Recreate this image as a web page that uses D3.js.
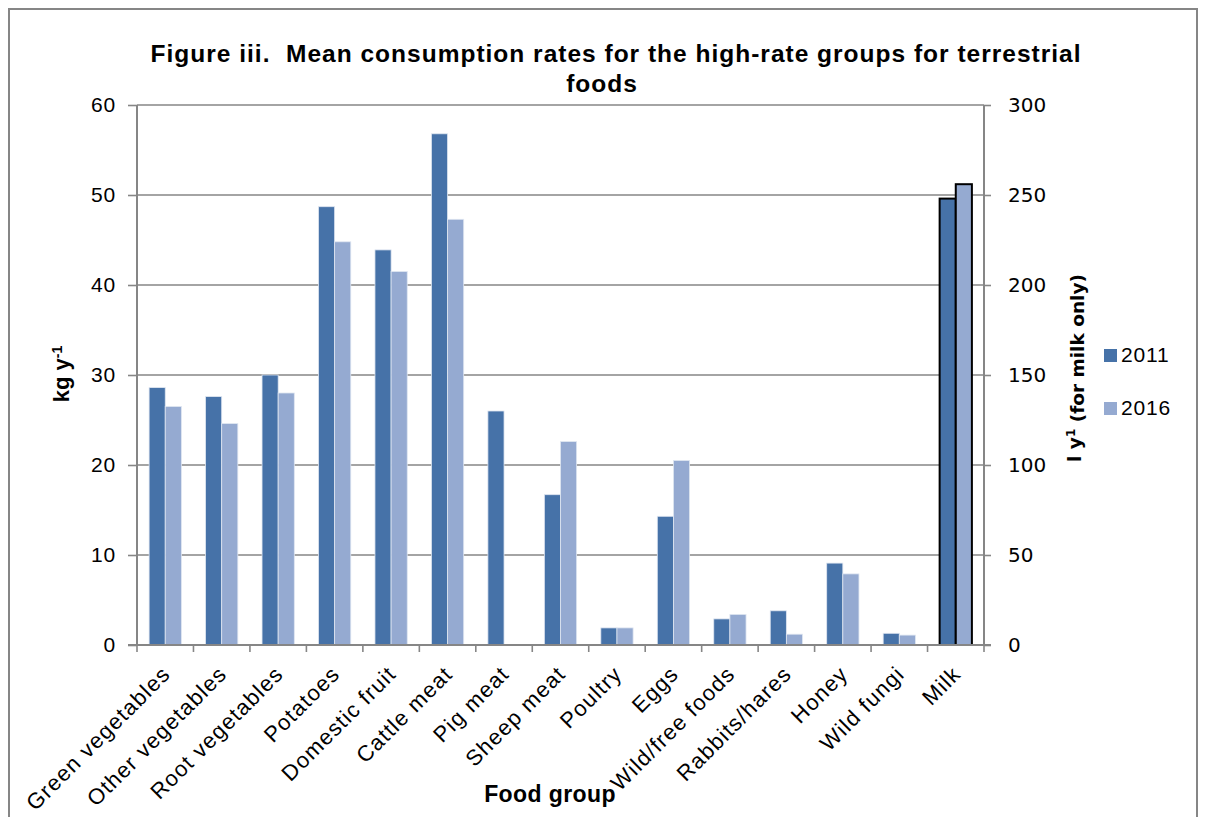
<!DOCTYPE html>
<html lang="en">
<head>
    <meta charset="UTF-8">
    <title>Figure iii</title>
    <style>
        body, html {
            margin: 0;
            padding: 0;
            background-color: #ffffff;
        }
        svg { display: block; }
    </style>
</head>
<body>
    <svg id="svg" width="1206" height="817"></svg>
    <script src="https://d3js.org/d3.v7.min.js"></script>
    <script>
        // data
        const categories = [
            "Green vegetables", "Other vegetables", "Root vegetables", "Potatoes",
            "Domestic fruit", "Cattle meat", "Pig meat", "Sheep meat", "Poultry",
            "Eggs", "Wild/free foods", "Rabbits/hares", "Honey", "Wild fungi", "Milk"
        ]
        const years = ["2011", "2016"]
        // kg per year (left axis), all groups except milk
        const kg2011 = [28.6, 27.6, 30.0, 48.7, 43.9, 56.8, 26.0, 16.7, 1.9, 14.3, 2.9, 3.8, 9.1, 1.3]
        const kg2016 = [26.5, 24.6, 28.0, 44.8, 41.5, 47.3, 0, 22.6, 1.9, 20.5, 3.4, 1.2, 7.9, 1.1]
        // litres per year (right axis), milk only
        const milk2011 = [248]
        const milk2016 = [256]
        const leftTicks = [0, 10, 20, 30, 40, 50, 60]
        const rightTicks = [0, 50, 100, 150, 200, 250, 300]

        const colors = { "2011": "#4672a8", "2016": "#95aad1" }
        const grey = "#868686"
        const font = "'Liberation Sans', Arial, sans-serif"

        const plot = { left: 137, right: 984, top: 105, bottom: 645 }

        const svg = d3.select('#svg')

        // outer chart border
        svg.append('rect')
            .attr('x', 9).attr('y', 9)
            .attr('width', 1188).attr('height', 830)
            .attr('fill', 'none')
            .attr('stroke', grey)
            .attr('stroke-width', 2)

        // scales
        const xscale = d3.scaleBand()
            .domain(categories)
            .range([plot.left, plot.right])
            .padding(0)
        const inner = d3.scaleBand()
            .domain(years)
            .range([0, xscale.bandwidth()])
            .paddingInner(0)
            .paddingOuter(0.75)
        const yLeft = d3.scaleLinear().domain([0, 60]).range([plot.bottom, plot.top])
        const yRight = d3.scaleLinear().domain([0, 300]).range([plot.bottom, plot.top])

        // gridlines
        svg.append('g')
            .selectAll('line')
            .data(leftTicks.filter(d => d > 0))
            .enter()
            .append('line')
            .attr('x1', plot.left).attr('x2', plot.right)
            .attr('y1', d => yLeft(d)).attr('y2', d => yLeft(d))
            .attr('stroke', grey)
            .attr('stroke-width', 1.6)

        // build rows for the bars
        const rows = []
        categories.forEach((c, i) => {
            if (c === "Milk") {
                rows.push({ cat: c, year: "2011", v: milk2011[0], milk: true })
                rows.push({ cat: c, year: "2016", v: milk2016[0], milk: true })
            } else {
                rows.push({ cat: c, year: "2011", v: kg2011[i], milk: false })
                rows.push({ cat: c, year: "2016", v: kg2016[i], milk: false })
            }
        })
        const yFor = d => d.milk ? yRight(d.v) : yLeft(d.v)

        svg.append('g')
            .selectAll('rect')
            .data(rows.filter(d => d.v > 0))
            .enter()
            .append('rect')
            .attr('x', d => xscale(d.cat) + inner(d.year))
            .attr('y', d => yFor(d))
            .attr('width', inner.bandwidth())
            .attr('height', d => plot.bottom - yFor(d))
            .attr('fill', d => colors[d.year])
            .attr('stroke', d => d.milk ? '#000000' : '#dfe6f1')
            .attr('stroke-width', d => d.milk ? 2 : 0.8)

        // left axis
        const leftAxis = d3.axisLeft(yLeft)
            .tickValues(leftTicks)
            .tickSize(9)
            .tickPadding(12)
        const gl = svg.append('g')
            .attr('transform', `translate(${plot.left}, 0)`)
            .call(leftAxis)
        gl.select('.domain').remove()
        gl.append('line')
            .attr('y1', plot.top).attr('y2', plot.bottom)
            .attr('stroke', grey).attr('stroke-width', 2)
        gl.selectAll('.tick line').attr('stroke', grey).attr('stroke-width', 1.6)
        gl.selectAll('text')
            .attr('font-family', font)
            .attr('font-size', '21px')
            .attr('letter-spacing', '0.8px')
            .attr('fill', '#000')

        // right axis
        const rightAxis = d3.axisRight(yRight)
            .tickValues(rightTicks)
            .tickSize(7)
            .tickPadding(17)
        const gr = svg.append('g')
            .attr('transform', `translate(${plot.right}, 0)`)
            .call(rightAxis)
        gr.select('.domain').remove()
        gr.append('line')
            .attr('y1', plot.top).attr('y2', plot.bottom)
            .attr('stroke', grey).attr('stroke-width', 2)
        gr.selectAll('.tick line').attr('stroke', grey).attr('stroke-width', 1.6)
        gr.selectAll('text')
            .attr('font-family', "'DejaVu Sans', sans-serif")
            .attr('font-size', '20px')
            .attr('fill', '#000')

        // bottom axis: ticks at category boundaries
        const gb = svg.append('g')
        gb.append('line')
            .attr('x1', plot.left - 9).attr('x2', plot.right + 7)
            .attr('y1', plot.bottom).attr('y2', plot.bottom)
            .attr('stroke', grey).attr('stroke-width', 2)
        gb.selectAll('line.tick')
            .data(categories.concat(["end"]))
            .enter()
            .append('line')
            .attr('class', 'tick')
            .attr('x1', (d, i) => i < categories.length ? xscale(d) : plot.right)
            .attr('x2', (d, i) => i < categories.length ? xscale(d) : plot.right)
            .attr('y1', plot.bottom).attr('y2', plot.bottom + 7)
            .attr('stroke', grey).attr('stroke-width', 1.6)
        gb.selectAll('text')
            .data(categories)
            .enter()
            .append('text')
            .attr('transform', d => `translate(${xscale(d) + xscale.bandwidth() / 2 + 1}, ${plot.bottom + 25}) rotate(-45)`)
            .attr('text-anchor', 'end')
            .attr('dy', '0.35em')
            .attr('font-family', font)
            .attr('font-size', '22px')
            .attr('letter-spacing', '1.2px')
            .text(d => d)

        // title
        const title = svg.append('g')
            .attr('font-family', font)
            .attr('font-weight', 'bold')
            .attr('font-size', '24.5px')
            .attr('letter-spacing', '1px')
            .attr('text-anchor', 'middle')
        title.append('text')
            .attr('x', 616).attr('y', 62)
            .text("Figure iii.\u00a0 Mean consumption rates for the high-rate groups for terrestrial")
        title.append('text')
            .attr('x', 602).attr('y', 92)
            .text("foods")

        // axis titles
        const lt = svg.append('text')
            .attr('transform', 'translate(69, 374) rotate(-90)')
            .attr('text-anchor', 'middle')
            .attr('font-family', font)
            .attr('font-weight', 'bold')
            .attr('font-size', '22px')
        lt.append('tspan').text('kg y')
        lt.append('tspan').attr('dy', '-0.5em').attr('font-size', '14px').text('-1')

        const rt = svg.append('text')
            .attr('transform', 'translate(1081, 368) rotate(-90)')
            .attr('text-anchor', 'middle')
            .attr('font-family', "'DejaVu Sans', sans-serif")
            .attr('font-weight', 'bold')
            .attr('font-size', '18.5px')
        rt.append('tspan').text('l y')
        rt.append('tspan').attr('dy', '-0.5em').attr('font-size', '12px').text('1')
        rt.append('tspan').attr('dy', '0.5em').text(' (for milk only)')

        svg.append('text')
            .attr('x', 550).attr('y', 802)
            .attr('text-anchor', 'middle')
            .attr('font-family', font)
            .attr('font-weight', 'bold')
            .attr('font-size', '23px')
            .attr('letter-spacing', '0.4px')
            .text('Food group')

        // legend
        const legend = svg.append('g')
            .selectAll('g')
            .data(years)
            .enter()
            .append('g')
            .attr('transform', (d, i) => `translate(1104, ${349 + i * 53})`)
        legend.append('rect')
            .attr('width', 13).attr('height', 13)
            .attr('fill', d => colors[d])
        legend.append('text')
            .attr('x', 17).attr('y', 13)
            .attr('font-family', font)
            .attr('font-size', '21px')
            .attr('letter-spacing', '0.8px')
            .text(d => d)
    </script>
</body>
</html>
